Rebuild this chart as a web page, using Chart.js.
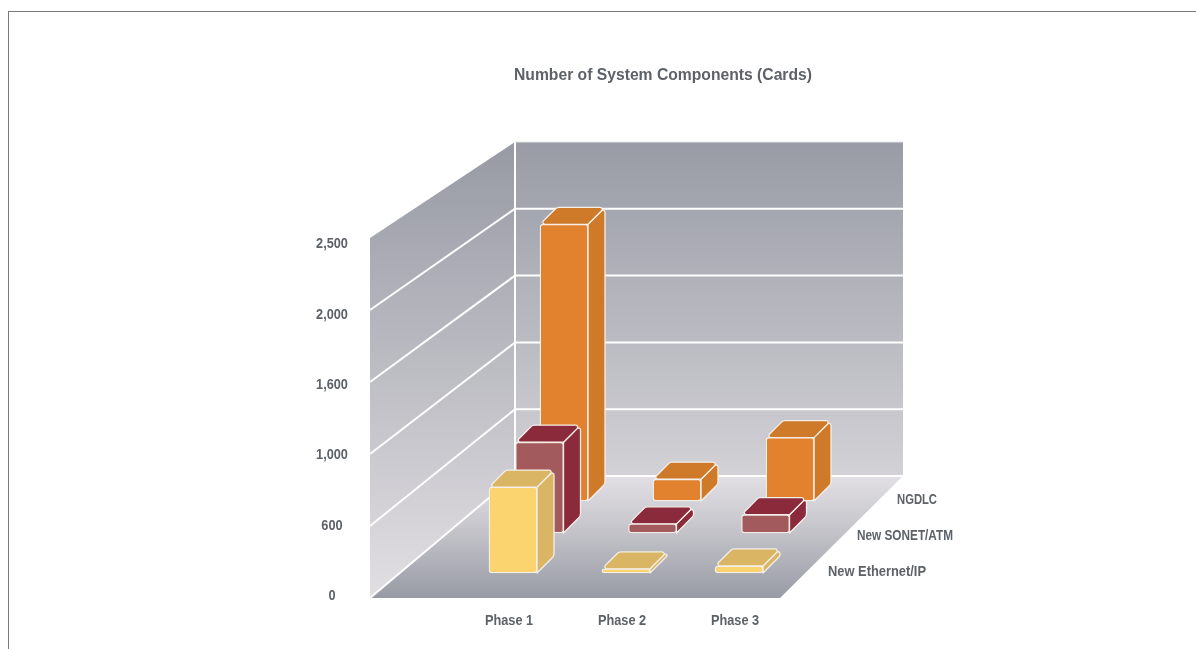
<!DOCTYPE html>
<html>
<head>
<meta charset="utf-8">
<title>Number of System Components (Cards)</title>
<script src="https://cdn.jsdelivr.net/npm/chart.js@4"></script>
<style>
    html, body { margin: 0; background: #fff; overflow: hidden; }
    #frame { position: absolute; left: 8px; top: 11px; right: 0; bottom: 0; border: solid #7b7b7b; border-width: 1px 0 0 1px; }
    canvas { position: absolute; left: 0; top: 0; }
</style>
</head>
<body>
<div id="frame"></div>
<canvas id="componentsChart" width="1196" height="649"></canvas>
<script>
const phases = ['Phase 1', 'Phase 2', 'Phase 3'];
const yTicks = [0, 500, 1000, 1500, 2000, 2500];
const yTickLabels = ['0', '600', '1,000', '1,600', '2,000', '2,500'];

const ethernetCards = [610, 30, 50];
const sonetCards = [645, 65, 130];
const ngdlcCards = [1965, 155, 450];

const textColor = '#5d6268';
const fontFamily = "'Liberation Sans', sans-serif";
const labelFont = 'bold 15px ' + fontFamily;
const labelSqueeze = 0.85;

// how far the back of the room sits from the front plane
const room = { leftDepth: 145, rightDepth: 123, floorRise: 122, frontFloorDrop: 2, frontHeight: 360, backHeight: 334 };
// every box is an extruded bar, and each series stands on its own row of the floor
const box = { dx: 17, dy: 17 };
const rowStyles = [
    { dx: 4, dy: -23, labelX: 828, labelY: 572, labelWidth: 98 },
    { dx: 30.5, dy: -63, labelX: 857, labelY: 536, labelWidth: 96 },
    { dx: 55, dy: -95, labelX: 897, labelY: 500, labelWidth: 40 }
];

function seriesData(values) {
    return values.map((y, x) => ({ x, y }));
}

// closed shape with softened corners; radii holds one radius per point
function polygon(ctx, points, fill, radii) {
    const count = points.length;
    const start = [(points[0][0] + points[1][0]) / 2, (points[0][1] + points[1][1]) / 2];
    ctx.beginPath();
    ctx.moveTo(start[0], start[1]);
    for (let i = 1; i <= count; i++) {
        const corner = points[i % count];
        const next = i === count ? start : points[(i + 1) % count];
        ctx.arcTo(corner[0], corner[1], next[0], next[1], radii ? radii[i % count] : 0);
    }
    ctx.closePath();
    ctx.fillStyle = fill;
    ctx.fill();
    ctx.stroke();
}

function verticalGradient(ctx, y0, y1, stops) {
    const gradient = ctx.createLinearGradient(0, y0, 0, y1);
    stops.forEach(([at, color]) => gradient.addColorStop(at, color));
    return gradient;
}

// the axis text is a condensed face, so it is drawn squeezed to width
function squeezedText(ctx, text, x, y, width) {
    ctx.fillText(text, x, y, width || ctx.measureText(text).width * labelSqueeze);
}

const roomPlugin = {
    id: 'room',
    beforeDatasetsDraw(chart) {
        const { ctx, chartArea, scales } = chart;
        const left = chartArea.left, right = chartArea.right;
        const floorFront = chartArea.bottom + room.frontFloorDrop;
        const floorBack = floorFront - room.floorRise;
        const backLeft = left + room.leftDepth, backRight = right + room.rightDepth;
        const frontTop = floorFront - room.frontHeight, backTop = floorBack - room.backHeight;

        ctx.save();
        ctx.lineWidth = 0;
        ctx.strokeStyle = 'transparent';

        polygon(ctx, [[backLeft, backTop], [backRight, backTop], [backRight, floorBack], [backLeft, floorBack]],
            verticalGradient(ctx, backTop, floorBack, [[0, '#999ca6'], [1, '#d2d1d6']]));
        polygon(ctx, [[left, frontTop], [backLeft, backTop], [backLeft, floorBack], [left, floorFront]],
            verticalGradient(ctx, backTop, floorFront, [[0, '#979aa4'], [1, '#e2dfe3']]));
        polygon(ctx, [[left, floorFront], [right, floorFront], [backRight, floorBack], [backLeft, floorBack]],
            verticalGradient(ctx, floorBack, floorFront, [[0, '#e2e0e5'], [0.4, '#c8c7cd'], [1, '#989ba5']]));

        // grid lines run along the left wall and across the back wall
        ctx.strokeStyle = '#fff';
        ctx.lineWidth = 2;
        ctx.beginPath();
        yTicks.forEach(value => {
            const share = (chartArea.bottom - scales.y.getPixelForValue(value)) / (chartArea.bottom - chartArea.top);
            if (share === 1) return;
            const frontY = floorFront - share * room.frontHeight;
            const backY = floorBack - share * room.backHeight;
            ctx.moveTo(left, frontY);
            ctx.lineTo(backLeft, backY);
            ctx.lineTo(backRight, backY);
        });
        ctx.moveTo(backLeft, backTop);
        ctx.lineTo(backLeft, floorBack);
        ctx.stroke();

        ctx.strokeStyle = '#e4e4e7';
        ctx.lineWidth = 1;
        ctx.beginPath();
        ctx.moveTo(backLeft, backTop);
        ctx.lineTo(backRight, backTop);
        ctx.stroke();
        ctx.restore();
    },
    beforeDatasetDraw(chart, args) {
        const { ctx } = chart;
        const row = rowStyles[args.index];
        const dataset = chart.data.datasets[args.index];

        ctx.save();
        ctx.translate(row.dx, row.dy);
        ctx.strokeStyle = '#f4efe9';
        ctx.lineWidth = 1.3;
        ctx.lineJoin = 'round';
        args.meta.data.forEach(bar => {
            const { x, y, base, width } = bar.getProps(['x', 'y', 'base', 'width'], true);
            const barLeft = x - width / 2, barRight = x + width / 2;
            const soft = Math.min(6, (base - y) * 0.4);
            polygon(ctx, [[barRight, y], [barRight + box.dx, y - box.dy], [barRight + box.dx, base - box.dy], [barRight, base]],
                dataset.sideColor, [0, Math.min(2, soft), soft, 0]);
            polygon(ctx, [[barLeft, y], [barLeft + box.dx, y - box.dy], [barRight + box.dx, y - box.dy], [barRight, y]],
                dataset.sideColor, [2, 5, 2, 0]);
        });
    },
    afterDatasetDraw(chart) {
        chart.ctx.restore();
    },
    afterLayout(chart) {
        // the heading is centred over the room, not over the page, and set to a fixed width
        chart.titleBlock.left = 514;
        chart.titleBlock.right = 812;
    },
    afterDraw(chart) {
        const { ctx, chartArea, scales } = chart;
        ctx.save();
        ctx.font = labelFont;
        ctx.fillStyle = textColor;
        ctx.textBaseline = 'middle';

        ctx.textAlign = 'center';
        scales.y.ticks.forEach(tick => {
            squeezedText(ctx, tick.label, chartArea.left - 38, scales.y.getPixelForValue(tick.value));
        });
        scales.x.ticks.forEach(tick => {
            squeezedText(ctx, tick.label, scales.x.getPixelForValue(tick.value), chartArea.bottom + 25);
        });

        // row names follow the floor's right edge
        ctx.textAlign = 'left';
        chart.data.datasets.forEach((dataset, i) => {
            const row = rowStyles[i];
            squeezedText(ctx, dataset.label, row.labelX, row.labelY, row.labelWidth);
        });
        ctx.restore();
    }
};

new Chart(document.getElementById('componentsChart'), {
    type: 'bar',
    data: {
        datasets: [
            { label: 'New Ethernet/IP', data: seriesData(ethernetCards), backgroundColor: '#fbd36f', sideColor: '#d9b564' },
            { label: 'New SONET/ATM', data: seriesData(sonetCards), backgroundColor: '#a35a5c', sideColor: '#8b2a3a' },
            { label: 'NGDLC', data: seriesData(ngdlcCards), backgroundColor: '#e2822f', sideColor: '#ce7a28' }
        ]
    },
    options: {
        responsive: false,
        animation: false,
        grouped: false,
        clip: false,
        barThickness: 48,
        elements: {
            bar: { borderColor: '#f4efe9', borderWidth: 1.3, borderRadius: 3, borderSkipped: false }
        },
        layout: { padding: { left: 300, right: 416, top: 65, bottom: 13 } },
        plugins: {
            legend: { display: false },
            tooltip: { enabled: false },
            title: {
                display: true,
                text: 'Number of System Components (Cards)',
                color: textColor,
                font: { family: fontFamily, size: 17, weight: 'bold', lineHeight: 1.2 },
                padding: { top: 0, bottom: 158.6 }
            }
        },
        scales: {
            x: {
                type: 'linear',
                offset: false,
                min: -1.23,
                max: 2.398,
                grid: { display: false },
                border: { display: false },
                afterBuildTicks: scale => { scale.ticks = phases.map((_, i) => ({ value: i })); },
                afterFit: scale => { scale.height = 40; },
                ticks: {
                    display: false,
                    autoSkip: false,
                    maxRotation: 0,
                    callback: value => phases[value]
                }
            },
            y: {
                min: 0,
                max: 2500,
                grid: { display: false },
                border: { display: false },
                afterFit: scale => { scale.width = 70; },
                ticks: {
                    display: false,
                    stepSize: 500,
                    callback: (value, index) => yTickLabels[index]
                }
            }
        }
    },
    plugins: [roomPlugin]
});
</script>
</body>
</html>
